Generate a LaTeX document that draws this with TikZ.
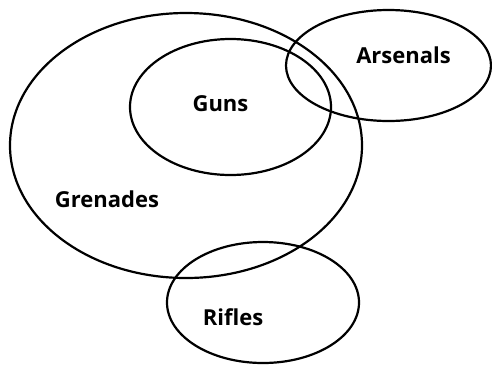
\documentclass[tikz,border=0pt]{standalone}
\usepackage{fontspec}
\setmainfont{Open Sans}
\tikzset{
    setline/.style={line width=2.2pt},
    setlabel/.style={anchor=base, font=\fontsize{22}{22}\selectfont\bfseries, inner sep=0pt}
}
\begin{document}
\begin{tikzpicture}[x=1pt, y=-1pt]
    \useasboundingbox (0,0) rectangle (492,365);

    % Sets (centre x / centre y / x radius / y radius)
    \foreach \cx/\cy/\rx/\ry in {186/145.5/176/132.5, 230.5/107/100.5/68, 388.5/65.5/102.5/55.5, 263/302.5/96/60.5} {
        \draw[setline] (\cx,\cy) ellipse [x radius=\rx, y radius=\ry];
    }

    % Labels
    \node[setlabel] (grenades) at (107,207) {Grenades};
    \node[setlabel] (guns) at (220.5,111) {Guns};
    \node[setlabel] (arsenals) at (403.5,63) {Arsenals};
    \node[setlabel] (rifles) at (233,325) {Rifles};
\end{tikzpicture}
\end{document}
